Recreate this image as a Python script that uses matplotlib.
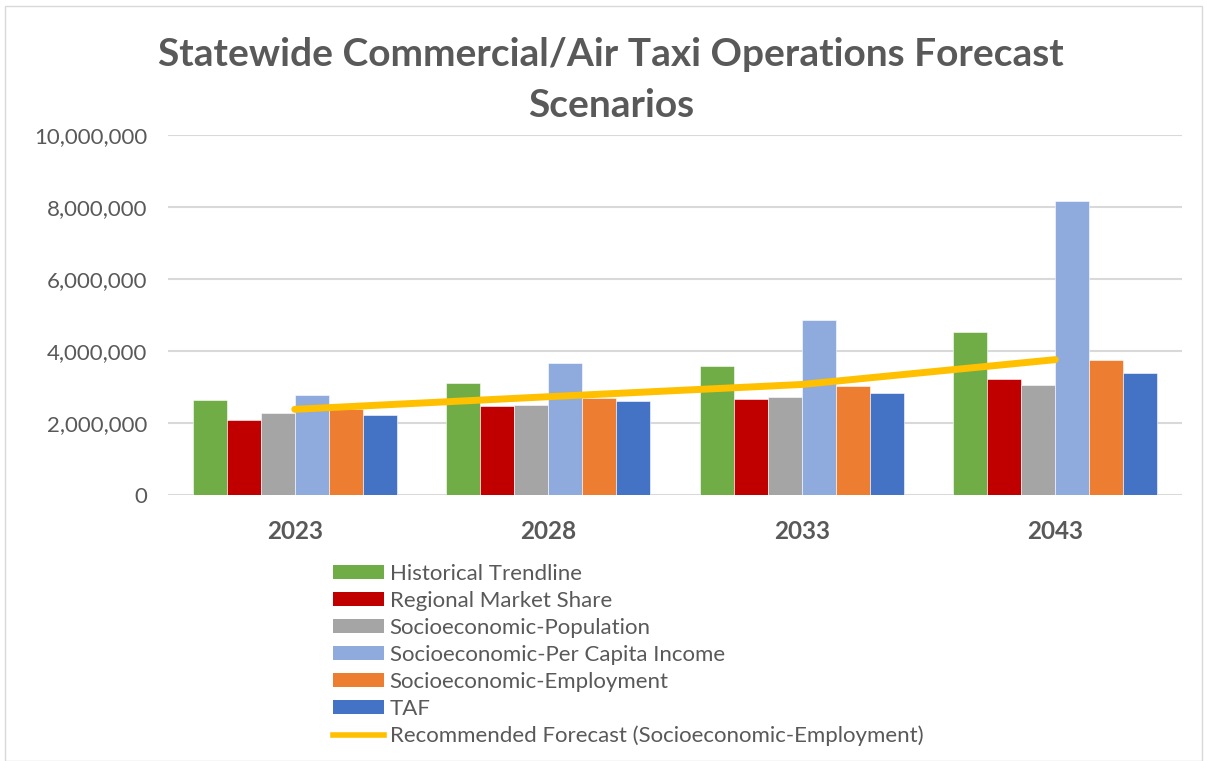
import numpy as np
import matplotlib
matplotlib.use("Agg")
import matplotlib.pyplot as plt
from matplotlib.lines import Line2D
from matplotlib.patches import Patch, Rectangle
from matplotlib.ticker import FuncFormatter

years = ['2023', '2028', '2033', '2043']
series = ['Historical Trendline', 'Regional Market Share', 'Socioeconomic-Population',
          'Socioeconomic-Per Capita Income', 'Socioeconomic-Employment', 'TAF']
historical = [2640000, 3100000, 3580000, 4540000]
regional = [2090000, 2460000, 2680000, 3230000]
population = [2270000, 2490000, 2710000, 3060000]
per_capita = [2770000, 3680000, 4860000, 8180000]
employment = [2390000, 2700000, 3040000, 3740000]
taf = [2220000, 2600000, 2830000, 3400000]
recommended = [2380000, 2730000, 3070000, 3760000]
colors = ['#70AD47', '#C00000', '#A5A5A5', '#8FAADC', '#ED7D31', '#4472C4']
line_color = '#FFC000'
text_color = '#595959'

plt.rcParams['font.family'] = ['Lato', 'DejaVu Sans']

fig = plt.figure(figsize=(12.07, 7.61), dpi=100)
fig.patches.append(Rectangle((5 / 1207, 0), 1 - 10 / 1207, 1 - 6 / 761, transform=fig.transFigure,
                             fill=False, edgecolor='#d9d9d9', linewidth=1))
ax = fig.add_axes([168 / 1207, (761 - 495) / 761, 1014 / 1207, 360 / 761])

data = [historical, regional, population, per_capita, employment, taf]
x = np.arange(len(years))
bw = 0.134
for i, vals in enumerate(data):
    ax.bar(x + (i - 2.5) * bw, vals, width=bw, color=colors[i], edgecolor='white', linewidth=0.4,
           zorder=2, label=series[i])
ax.plot(x, recommended, color=line_color, linewidth=5, solid_capstyle='round', zorder=3,
        label='Recommended Forecast (Socioeconomic-Employment)')

ax.set_xlim(-0.5, len(years) - 0.5)
ax.set_ylim(0, 10000000)
ax.set_yticks(np.arange(0, 10000001, 2000000))
ax.yaxis.set_major_formatter(FuncFormatter(lambda v, p: f'{int(v):,}'))
ax.set_xticks(x)
ax.set_xticklabels(years, fontsize=17.5, fontweight='bold', color=text_color)
ax.tick_params(axis='y', labelsize=16, labelcolor=text_color, length=0, pad=15)
ax.tick_params(axis='x', length=0, pad=18)
ax.grid(axis='y', color='#d9d9d9', linewidth=1.5, zorder=0)
for s in ax.spines.values():
    s.set_visible(False)

fig.text(0.506, 0.928, 'Statewide Commercial/Air Taxi Operations Forecast', ha='center', va='center',
         fontsize=28, fontweight='bold', color=text_color)
fig.text(0.506, 0.862, 'Scenarios', ha='center', va='center',
         fontsize=28, fontweight='bold', color=text_color)

handles = [Patch(facecolor=c) for c in colors] + [Line2D([0], [0], color=line_color, linewidth=4)]
labels = series + ['Recommended Forecast (Socioeconomic-Employment)']
fig.legend(handles, labels, loc='upper left', bbox_to_anchor=(322 / 1207, 1 - 553 / 761),
           frameon=False, fontsize=16, labelcolor=text_color, handlelength=2.3, handleheight=0.58,
           handletextpad=0.25, labelspacing=0.31, borderpad=0)

fig.savefig('out.png', dpi=100)
